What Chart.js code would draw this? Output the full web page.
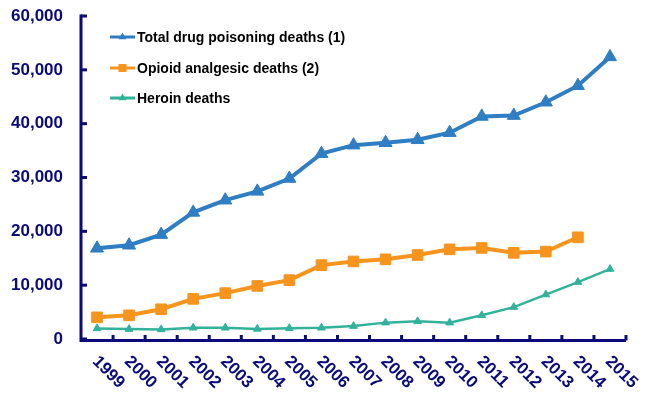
<!DOCTYPE html>
<html>
<head>
<meta charset="utf-8">
<script src="https://cdn.jsdelivr.net/npm/chart.js@4/dist/chart.umd.min.js"></script>
<style>
  html, body { margin: 0; padding: 0; background: #ffffff; }
  #wrap { width: 650px; height: 396px; }
</style>
</head>
<body>
<div id="wrap"><canvas id="c" width="650" height="396"></canvas></div>
<script>
const years = ['1999','2000','2001','2002','2003','2004','2005','2006','2007','2008','2009','2010','2011','2012','2013','2014','2015'];
const totalDrug = [16849, 17415, 19394, 23518, 25785, 27424, 29813, 34425, 36010, 36450, 37004, 38329, 41340, 41502, 43982, 47055, 52404];
const opioidAnalgesic = [4030, 4400, 5528, 7456, 8517, 9857, 10928, 13723, 14408, 14800, 15597, 16651, 16917, 16007, 16235, 18893, null];
const heroin = [1960, 1842, 1779, 2089, 2080, 1878, 2009, 2088, 2399, 3041, 3278, 3036, 4397, 5925, 8257, 10574, 12989];
const seriesNames = ['Total drug poisoning deaths (1)', 'Opioid analgesic deaths (2)', 'Heroin deaths'];
const yTicks = [0, 10000, 20000, 30000, 40000, 50000, 60000];

const NAVY = '#0a0a7a';
const BLUE = '#2f7dc2';
const ORANGE = '#f7941d';
const TEAL = '#33b29b';

const customDraw = {
  id: 'customDraw',
  beforeDatasetsDraw(chart) {
    const ctx = chart.ctx;
    const xs = chart.scales.x;
    const ys = chart.scales.y;
    const area = chart.chartArea;
    ctx.save();
    ctx.strokeStyle = NAVY;
    ctx.lineWidth = 3;
    ctx.lineCap = 'butt';
    // axis lines
    ctx.beginPath();
    ctx.moveTo(area.left, ys.getPixelForValue(60000) - 1.5);
    ctx.lineTo(area.left, area.bottom + 1.5);
    ctx.lineTo(area.right, area.bottom + 1.5);
    ctx.stroke();
    // inward tick marks
    ys.ticks.forEach((t, i) => {
      const y = ys.getPixelForTick(i);
      ctx.beginPath();
      ctx.moveTo(area.left, y);
      ctx.lineTo(area.left + 6, y);
      ctx.stroke();
    });
    const n = years.length;
    const step = (xs.getPixelForValue(1) - xs.getPixelForValue(0));
    for (let i = 1; i <= n; i++) {
      const x = xs.getPixelForValue(0) - step / 2 + i * step;
      ctx.beginPath();
      ctx.moveTo(x, area.bottom + 1.5);
      ctx.lineTo(x, area.bottom - 4);
      ctx.stroke();
    }
    ctx.restore();
  },
  afterDraw(chart) {
    const ctx = chart.ctx;
    const xs = chart.scales.x;
    const area = chart.chartArea;
    ctx.save();
    // rotated x labels
    ctx.fillStyle = NAVY;
    ctx.font = 'bold 17px "Liberation Sans", Arial, sans-serif';
    ctx.textAlign = 'left';
    ctx.textBaseline = 'middle';
    years.forEach((lab, i) => {
      const x = xs.getPixelForValue(i);
      ctx.save();
      ctx.translate(x - 2, area.bottom + 20);
      ctx.rotate(Math.PI / 4);
      ctx.fillText(lab, 0, 0);
      ctx.restore();
    });
    // legend
    const rowsY = [37, 68, 98];
    chart.data.datasets.forEach((ds, i) => {
      const y = rowsY[i];
      ctx.strokeStyle = ds.borderColor;
      ctx.lineWidth = 3;
      ctx.beginPath();
      ctx.moveTo(110, y);
      ctx.lineTo(135, y);
      ctx.stroke();
      ctx.fillStyle = ds.borderColor;
      const cx = 122.5;
      if (ds.pointStyle === 'rect') {
        ctx.fillRect(cx - 4, y - 4, 8, 8);
      } else {
        const r = 4.5;
        ctx.beginPath();
        ctx.moveTo(cx, y - r);
        ctx.lineTo(cx + r * 0.866, y + r * 0.5);
        ctx.lineTo(cx - r * 0.866, y + r * 0.5);
        ctx.closePath();
        ctx.fill();
      }
      ctx.fillStyle = '#000000';
      ctx.font = 'bold 14px "Liberation Sans", Arial, sans-serif';
      ctx.textAlign = 'left';
      ctx.textBaseline = 'middle';
      ctx.fillText(ds.label, 137, y + 1);
    });
    ctx.restore();
  }
};

new Chart(document.getElementById('c'), {
  type: 'line',
  data: {
    labels: years,
    datasets: [
      { label: seriesNames[0], data: totalDrug, borderColor: BLUE, backgroundColor: BLUE,
        borderWidth: 4, pointStyle: 'triangle', pointRadius: 7.5, pointBorderWidth: 1, pointHoverRadius: 7.5 },
      { label: seriesNames[1], data: opioidAnalgesic, borderColor: ORANGE, backgroundColor: ORANGE,
        borderWidth: 4, pointStyle: 'rect', pointRadius: 7.5, pointBorderWidth: 1, pointHoverRadius: 7.5 },
      { label: seriesNames[2], data: heroin, borderColor: TEAL, backgroundColor: TEAL,
        borderWidth: 2.5, pointStyle: 'triangle', pointRadius: 4.5, pointBorderWidth: 1, pointHoverRadius: 4.5 }
    ]
  },
  options: {
    responsive: false,
    animation: false,
    events: [],
    layout: { padding: { top: 16, right: 24, bottom: 0, left: 0 } },
    plugins: { legend: { display: false }, tooltip: { enabled: false } },
    elements: { line: { tension: 0 } },
    scales: {
      x: {
        offset: true,
        grid: { display: false, drawTicks: false },
        border: { display: false },
        ticks: { display: false },
        afterFit(scale) { scale.height = 57; scale.paddingLeft = 0; scale.paddingRight = 0; }
      },
      y: {
        min: 0, max: 60000,
        afterBuildTicks(scale) { scale.ticks = yTicks.map(v => ({ value: v })); },
        grid: { display: false, drawTicks: false },
        border: { display: false },
        ticks: {
          color: NAVY,
          padding: 18,
          font: { family: '"Liberation Sans", Arial, sans-serif', size: 17, weight: 'bold' }
        },
        afterFit(scale) { scale.width = 81; scale.paddingTop = 0; scale.paddingBottom = 0; }
      }
    }
  },
  plugins: [customDraw]
});
</script>
</body>
</html>
